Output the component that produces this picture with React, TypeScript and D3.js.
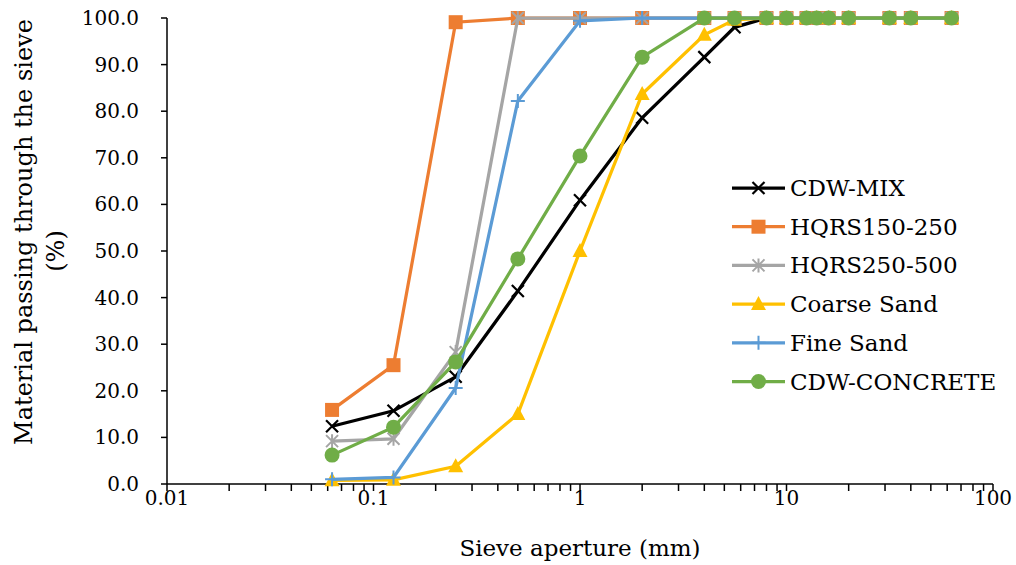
import React from "react";
import * as d3 from "d3";

// sieve sizes (mm)
const sieves = [0.063, 0.125, 0.25, 0.5, 1, 2, 4, 5.6, 8, 10, 12.5, 14, 16, 20, 31.5, 40, 63];

const cdwMix = [12.4, 15.7, 23.0, 41.4, 60.9, 78.6, 91.6, 98.0, 100, 100, 100, 100, 100, 100, 100, 100, 100];
const hqrs150 = [15.9, 25.5, 99.1, 100, 100, 100, 100, 100, 100, 100, 100, 100, 100, 100, 100, 100, 100];
const hqrs250 = [9.2, 9.7, 28.3, 100, 100, 100, 100, 100, 100, 100, 100, 100, 100, 100, 100, 100, 100];
const coarseSand = [0.8, 0.9, 3.8, 15.0, 50.0, 83.7, 96.4, 99.6, 100, 100, 100, 100, 100, 100, 100, 100, 100];
const fineSand = [1.0, 1.4, 20.6, 82.2, 99.4, 100, 100, 100, 100, 100, 100, 100, 100, 100, 100, 100, 100];
const cdwConcrete = [6.2, 12.2, 26.2, 48.3, 70.4, 91.6, 100, 100, 100, 100, 100, 100, 100, 100, 100, 100, 100];

const series = [
  { name: "CDW-MIX", values: cdwMix, color: "#000000", marker: "x" },
  { name: "HQRS150-250", values: hqrs150, color: "#ED7D31", marker: "square" },
  { name: "HQRS250-500", values: hqrs250, color: "#A5A5A5", marker: "star" },
  { name: "Coarse Sand", values: coarseSand, color: "#FFC000", marker: "triangle" },
  { name: "Fine Sand", values: fineSand, color: "#5B9BD5", marker: "plus" },
  { name: "CDW-CONCRETE", values: cdwConcrete, color: "#70AD47", marker: "circle" },
];

const yTicks = [0, 10, 20, 30, 40, 50, 60, 70, 80, 90, 100];
const xLabels = [0.01, 0.1, 1, 10, 100];

const FONT = "'DejaVu Serif', 'Liberation Serif', serif";

function Marker({ type, x, y, color }: { type: string; x: number; y: number; color: string }) {
  const s = 7;
  switch (type) {
    case "square":
      return <rect x={x - s} y={y - s} width={2 * s} height={2 * s} fill={color} />;
    case "circle":
      return <circle cx={x} cy={y} r={7.5} fill={color} />;
    case "triangle":
      return <path d={`M${x},${y - 8} L${x + 7.5},${y + 6} L${x - 7.5},${y + 6} Z`} fill={color} />;
    case "x":
      return (
        <path d={`M${x - 6},${y - 6} L${x + 6},${y + 6} M${x - 6},${y + 6} L${x + 6},${y - 6}`} stroke={color} strokeWidth={2.2} />
      );
    case "plus":
      return <path d={`M${x - 7},${y} L${x + 7},${y} M${x},${y - 7} L${x},${y + 7}`} stroke={color} strokeWidth={2} />;
    case "star":
      return (
        <path
          d={`M${x - 6},${y - 6} L${x + 6},${y + 6} M${x - 6},${y + 6} L${x + 6},${y - 6} M${x},${y - 7} L${x},${y + 7}`}
          stroke={color}
          strokeWidth={2}
        />
      );
    default:
      return null;
  }
}

export default function App() {
  const width = 1016;
  const height = 565;
  const left = 167;
  const right = 993;
  const top = 18;
  const bottom = 484;

  const x = d3.scaleLog().domain([0.01, 100]).range([left, right]);
  const y = d3.scaleLinear().domain([0, 100]).range([bottom, top]);

  const line = d3
    .line<number>()
    .x((_, i) => x(sieves[i]))
    .y((d) => y(d));

  // log ticks: 1..9 per decade
  const minorTicks: number[] = [];
  for (let e = -2; e < 2; e++) {
    for (let m = 1; m <= 9; m++) minorTicks.push(m * Math.pow(10, e));
  }
  minorTicks.push(100);

  const legendX = 732;
  const legendY0 = 188;
  const legendStep = 38.7;

  return (
    <svg width={width} height={height} style={{ position: "absolute", left: 0, top: 0, background: "#fff" }} fontFamily={FONT}>
      {/* axes */}
      <line x1={left} x2={left} y1={top} y2={bottom} stroke="#000" strokeWidth={1.5} />
      <line x1={left} x2={right} y1={bottom} y2={bottom} stroke="#000" strokeWidth={1.5} />
      {yTicks.map((t) => (
        <g key={t}>
          <line x1={left - 6} x2={left} y1={y(t)} y2={y(t)} stroke="#000" strokeWidth={1.5} />
          <text x={139} y={y(t)} dy="0.35em" textAnchor="end" fontSize={20}>
            {t.toFixed(1)}
          </text>
        </g>
      ))}
      {minorTicks.map((t, i) => (
        <line key={i} x1={x(t)} x2={x(t)} y1={bottom} y2={bottom + 7} stroke="#000" strokeWidth={1.5} />
      ))}
      {xLabels.map((t) => (
        <text key={t} x={x(t)} y={505} textAnchor="middle" fontSize={20}>
          {String(t)}
        </text>
      ))}
      <text x={580} y={556} textAnchor="middle" fontSize={23}>
        Sieve aperture (mm)
      </text>
      <text transform="translate(32,232) rotate(-90)" textAnchor="middle" fontSize={24}>
        Material passing through the sieve
      </text>
      <text transform="translate(64,251) rotate(-90)" textAnchor="middle" fontSize={24}>
        (%)
      </text>

      {/* series */}
      {series.map((s) => (
        <g key={s.name}>
          <path d={line(s.values) || ""} fill="none" stroke={s.color} strokeWidth={3.25} />
          {s.values.map((v, i) => (
            <Marker key={i} type={s.marker} x={x(sieves[i])} y={y(v)} color={s.color} />
          ))}
        </g>
      ))}

      {/* legend */}
      {series.map((s, i) => {
        const ly = legendY0 + i * legendStep;
        return (
          <g key={s.name}>
            <line x1={legendX} x2={legendX + 53} y1={ly} y2={ly} stroke={s.color} strokeWidth={3.25} />
            <Marker type={s.marker} x={legendX + 26.5} y={ly} color={s.color} />
            <text x={legendX + 58} y={ly} dy="0.35em" fontSize={23}>
              {s.name}
            </text>
          </g>
        );
      })}
    </svg>
  );
}
